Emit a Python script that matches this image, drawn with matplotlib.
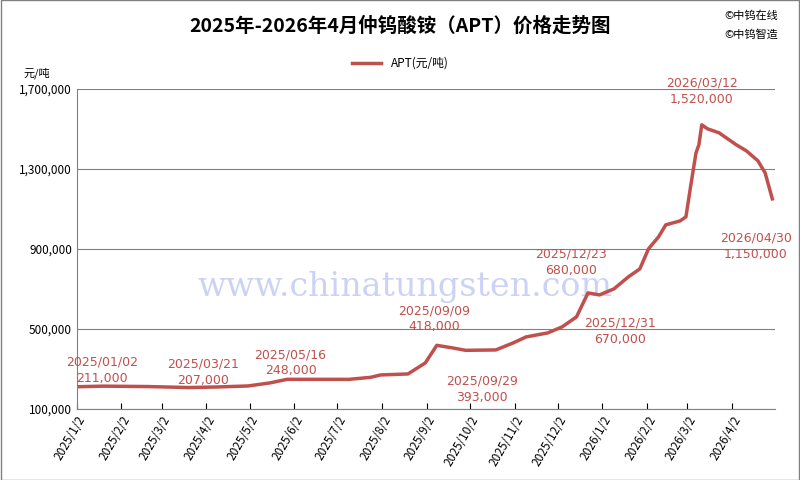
import numpy as np
import pandas as pd
import matplotlib
matplotlib.use('Agg')
import matplotlib.pyplot as plt

plt.rcParams['font.family'] = ['Noto Sans CJK SC', 'DejaVu Sans']

# price series (yuan/ton)
dates = ['2025-01-02', '2025-01-20', '2025-02-20', '2025-03-21', '2025-04-10', '2025-05-01',
         '2025-05-16', '2025-05-28', '2025-07-10', '2025-07-25', '2025-08-01', '2025-08-20',
         '2025-09-01', '2025-09-09', '2025-09-20', '2025-09-29', '2025-10-20', '2025-11-01',
         '2025-11-10', '2025-11-25', '2025-12-05', '2025-12-15', '2025-12-23', '2025-12-31',
         '2026-01-10', '2026-01-20', '2026-01-28', '2026-02-03', '2026-02-10', '2026-02-15',
         '2026-02-25', '2026-03-01', '2026-03-04', '2026-03-08', '2026-03-10', '2026-03-12',
         '2026-03-16', '2026-03-24', '2026-03-30', '2026-04-05', '2026-04-12', '2026-04-20',
         '2026-04-25', '2026-04-30']
prices = [211000, 214000, 212000, 207000, 210000, 215000,
          230000, 248000, 248000, 258000, 270000, 275000,
          330000, 418000, 405000, 393000, 395000, 430000,
          460000, 480000, 510000, 560000, 680000, 670000,
          700000, 760000, 800000, 900000, 960000, 1020000,
          1040000, 1060000, 1200000, 1380000, 1420000, 1520000,
          1500000, 1480000, 1450000, 1420000, 1390000, 1340000,
          1280000, 1150000]

ann_dates = ['2025-01-02', '2025-03-21', '2025-05-16', '2025-09-09', '2025-09-29',
             '2025-12-23', '2025-12-31', '2026-03-12', '2026-04-30']
ann_vals = [211000, 207000, 248000, 418000, 393000, 680000, 670000, 1520000, 1150000]
ann_off = [(18, 12), (10, 11), (15, 12), (-2, 19), (12, -28), (-12, 22), (15, -26), (0, 24), (-12, -34)]

tick_labels = ['2025/1/2', '2025/2/2', '2025/3/2', '2025/4/2', '2025/5/2', '2025/6/2', '2025/7/2',
               '2025/8/2', '2025/9/2', '2025/10/2', '2025/11/2', '2025/12/2', '2026/1/2',
               '2026/2/2', '2026/3/2', '2026/4/2']

red = '#C0504D'
x = pd.to_datetime(dates)

fig = plt.figure(figsize=(8, 4.8), dpi=100)
ax = fig.add_axes([0.096, 0.148, 0.873, 0.667])
ax.plot(x, prices, color=red, lw=2.5, label='APT(元/吨)')

for d, v, (dx, dy) in zip(ann_dates, ann_vals, ann_off):
    ax.annotate(f"{d.replace('-', '/')}\n{v:,}", (pd.Timestamp(d), v), xytext=(dx, dy),
                textcoords='offset points', ha='center', va='center', color=red,
                fontsize=9, linespacing=1.3, family=['DejaVu Sans'])

ax.set_ylim(100000, 1700000)
ax.set_yticks(np.arange(100000, 1700001, 400000))
ax.yaxis.set_major_formatter(matplotlib.ticker.FuncFormatter(lambda v, p: f'{int(v):,}'))
ax.grid(axis='y', color='#808080', lw=0.8)
ax.set_xlim(pd.Timestamp('2025-01-02'), pd.Timestamp('2026-05-02'))
ax.set_xticks(pd.to_datetime([t.replace('/', '-') for t in tick_labels]))
ax.set_xticklabels(tick_labels, rotation=60, ha='right', rotation_mode='anchor', fontsize=8.5)
ax.tick_params(axis='y', labelsize=8.5, length=0)
ax.tick_params(axis='x', direction='in', length=4)
for s in ['top', 'right']:
    ax.spines[s].set_visible(False)
ax.spines['left'].set_color('#808080')
ax.spines['bottom'].set_color('#808080')

ax.text(0.47, 0.38, 'www.chinatungsten.com', transform=ax.transAxes, fontsize=24,
        color='#aab4f0', alpha=0.6, ha='center', va='center', family='DejaVu Serif', zorder=0)

fig.text(0.5, 0.945, '2025年-2026年4月仲钨酸铵（APT）价格走势图', ha='center', va='center',
         fontsize=14, fontweight='bold')
fig.text(0.905, 0.968, '©中钨在线', fontsize=8, va='center')
fig.text(0.905, 0.928, '©中钨智造', fontsize=8, va='center')
fig.text(0.03, 0.848, '元/吨', fontsize=8, va='center')
fig.legend(loc='center', bbox_to_anchor=(0.5, 0.868), frameon=False, fontsize=8.5, handlelength=2.5)

fig.patches.append(plt.Rectangle((0.001, 0.001), 0.998, 0.998, transform=fig.transFigure,
                                 fill=False, edgecolor='#808080', lw=1))
fig.savefig('out.png', dpi=100)
